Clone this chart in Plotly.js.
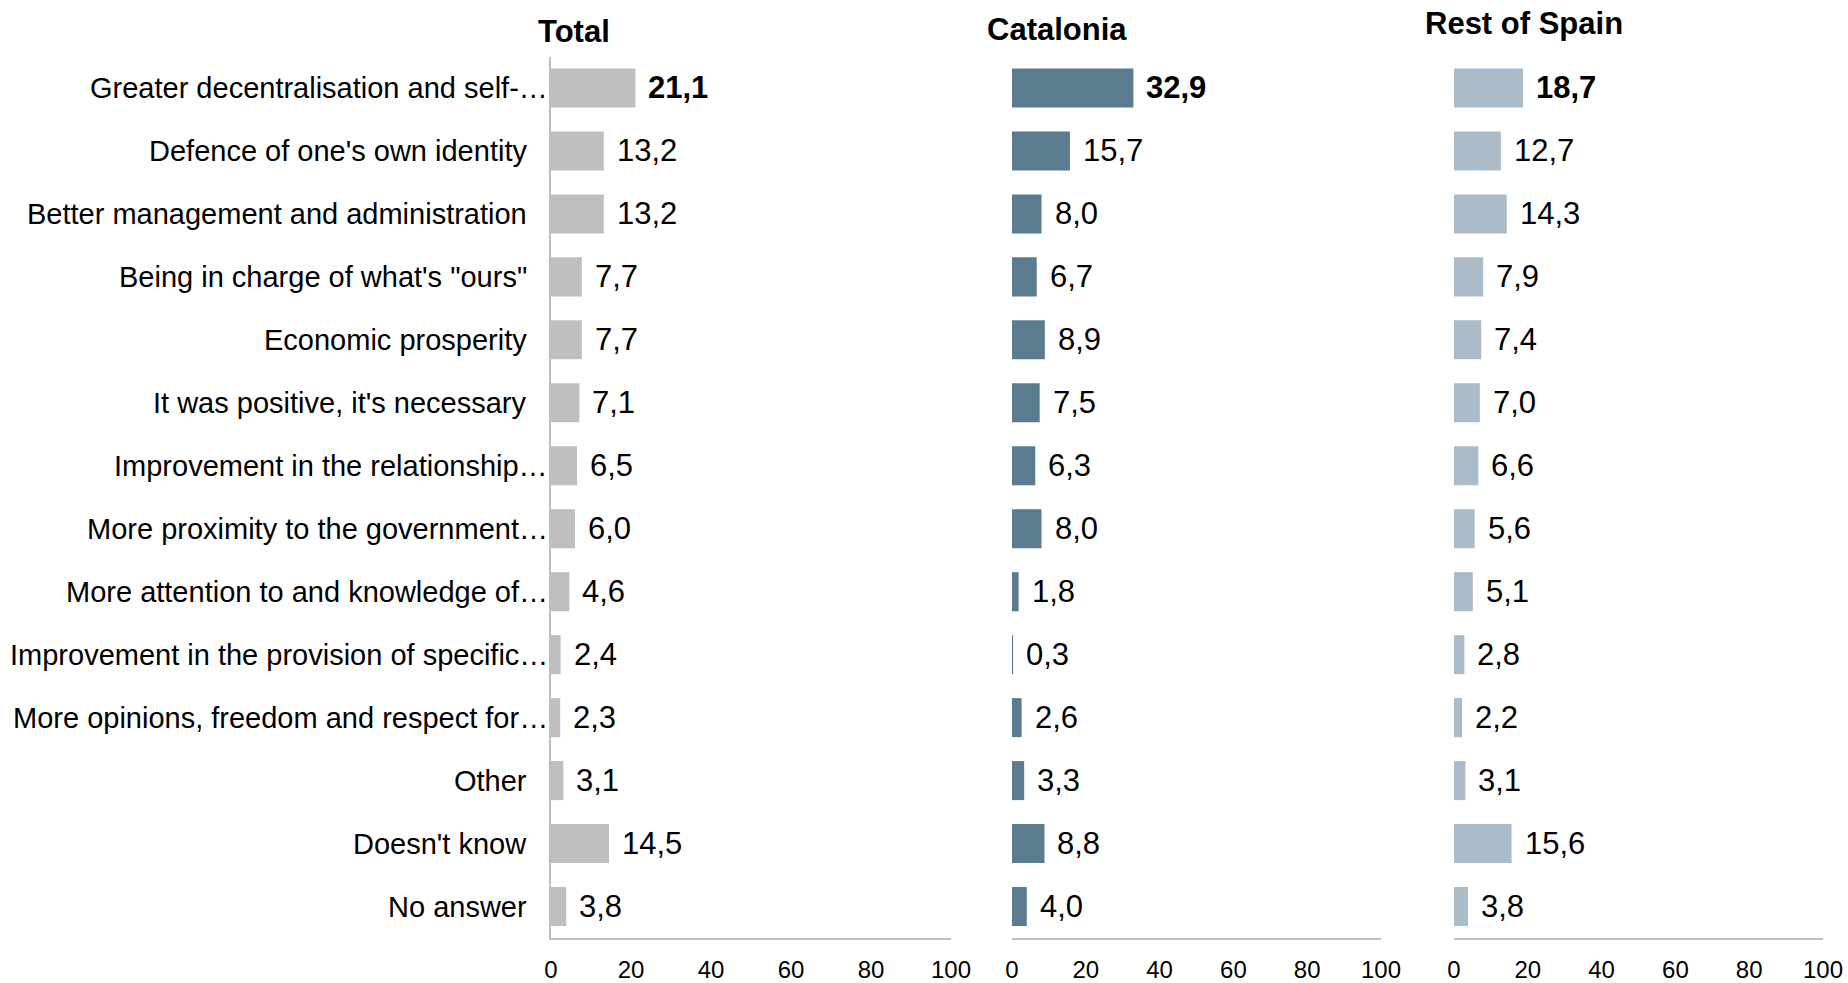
<!DOCTYPE html>
<html>
<head>
<meta charset="utf-8">
<script src="https://cdn.plot.ly/plotly-3.0.1.min.js"></script>
<style>html,body{margin:0;padding:0;background:#fff;}#chart{width:1848px;height:983px;}</style>
</head>
<body>
<div id="chart"></div>
<script>
const categories = [
  "Greater decentralisation and self-…",
  "Defence of one's own identity",
  "Better management and administration",
  "Being in charge of what's \"ours\"",
  "Economic prosperity",
  "It was positive, it's necessary",
  "Improvement in the relationship…",
  "More proximity to the government…",
  "More attention to and knowledge of…",
  "Improvement in the provision of specific…",
  "More opinions, freedom and respect for…",
  "Other",
  "Doesn't know",
  "No answer"
];
const totalValues = [21.1, 13.2, 13.2, 7.7, 7.7, 7.1, 6.5, 6.0, 4.6, 2.4, 2.3, 3.1, 14.5, 3.8];
const cataloniaValues = [32.9, 15.7, 8.0, 6.7, 8.9, 7.5, 6.3, 8.0, 1.8, 0.3, 2.6, 3.3, 8.8, 4.0];
const restValues = [18.7, 12.7, 14.3, 7.9, 7.4, 7.0, 6.6, 5.6, 5.1, 2.8, 2.2, 3.1, 15.6, 3.8];
const panelTitles = ["Total", "Catalonia", "Rest of Spain"];
const tickValues = [0, 20, 40, 60, 80, 100];

const FONT = "'Liberation Sans', Arial, Helvetica, sans-serif";
const colors = ["#BFBFBF", "#5B7C8F", "#ABBBC7"];
const series = [totalValues, cataloniaValues, restValues];
const axisIds = ["x", "x2", "x3"];

const traces = series.map((vals, i) => ({
  type: "bar",
  orientation: "h",
  x: vals,
  y: categories,
  xaxis: axisIds[i],
  yaxis: "y",
  marker: {color: colors[i]},
  hoverinfo: "skip",
  showlegend: false
}));

const fmt = v => v.toFixed(1).replace(".", ",");
const annotations = [];
// category labels, right-aligned against the Total axis (truncated ones run up to the axis)
categories.forEach(c => {
  annotations.push({
    x: 0, y: c, xref: "x", yref: "y",
    text: c, showarrow: false, xanchor: "right", yanchor: "middle",
    xshift: c.endsWith("…") ? -1 : -22,
    font: {family: FONT, size: 29, color: "#000"}
  });
});
series.forEach((vals, i) => {
  vals.forEach((v, j) => {
    annotations.push({
      x: v, y: categories[j], xref: axisIds[i], yref: "y",
      text: j === 0 ? "<b>" + fmt(v) + "</b>" : fmt(v),
      showarrow: false, xanchor: "left", yanchor: "middle",
      xshift: 11,
      font: {family: FONT, size: 31, color: "#000"}
    });
  });
});
const titlePos = [[536, 31, 31], [985, 29, 31], [1423, 24, 31]];
panelTitles.forEach((t, i) => {
  annotations.push({
    x: titlePos[i][0] / 1848, y: 1 - titlePos[i][1] / 983,
    xref: "paper", yref: "paper", xanchor: "left", yanchor: "middle",
    text: "<b>" + t + "</b>", showarrow: false,
    font: {family: FONT, size: titlePos[i][2], color: "#000"}
  });
});

const xBase = {
  range: [0, 100], tickvals: tickValues, ticktext: tickValues.map(String),
  showgrid: false, zeroline: false, showline: true, linecolor: "#BFBFBF", linewidth: 2,
  ticks: "", ticklabelstandoff: 9,
  tickfont: {family: FONT, size: 24, color: "#000"},
  anchor: "y", fixedrange: true
};

const layout = {
  width: 1848, height: 983,
  margin: {l: 0, r: 0, t: 0, b: 0},
  paper_bgcolor: "#fff", plot_bgcolor: "rgba(0,0,0,0)",
  bargap: 0.38,
  xaxis: Object.assign({}, xBase, {domain: [551/1848, 951/1848]}),
  xaxis2: Object.assign({}, xBase, {domain: [1012/1848, 1381/1848]}),
  xaxis3: Object.assign({}, xBase, {domain: [1454/1848, 1823/1848]}),
  yaxis: {
    domain: [1 - 938/983, 1 - 56.5/983],
    categoryorder: "array", categoryarray: categories,
    autorange: "reversed", type: "category",
    showgrid: false, zeroline: false, showline: true, linecolor: "#BFBFBF", linewidth: 2,
    ticks: "", showticklabels: false,
    anchor: "x", fixedrange: true
  },
  annotations: annotations,
  font: {family: FONT}
};

Plotly.newPlot("chart", traces, layout, {displayModeBar: false, staticPlot: true});
</script>
</body>
</html>
